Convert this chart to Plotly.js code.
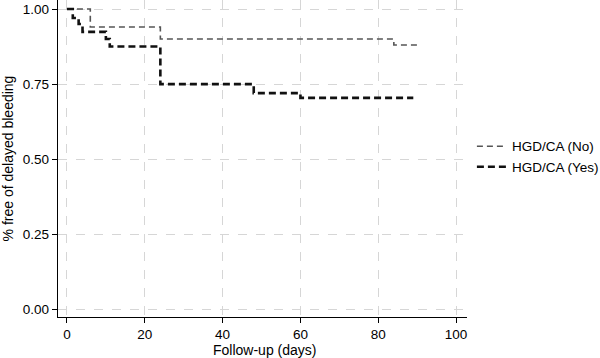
<!DOCTYPE html>
<html>
<head>
<meta charset="utf-8">
<script src="https://cdn.plot.ly/plotly-3.0.1.min.js"></script>
<style>html,body{margin:0;padding:0;background:#fff;}#chart{width:600px;height:358px;}</style>
</head>
<body>
<div id="chart"></div>
<script>
var noDays = [0, 6, 24, 84, 90];
var noSurv = [1.0, 0.94, 0.90, 0.88, 0.88];
var yesDays = [0, 1.5, 3, 4, 10, 11, 24, 48, 60, 89];
var yesSurv = [1.0, 0.97, 0.95, 0.924, 0.90, 0.875, 0.75, 0.72, 0.704, 0.704];
var xTicks = [0, 20, 40, 60, 80, 100];
var yTicks = [0, 0.25, 0.5, 0.75, 1.0];
var yTickLabels = ["0.00", "0.25", "0.50", "0.75", "1.00"];
var seriesNames = ["HGD/CA (No)", "HGD/CA (Yes)"];
var xTitle = 'Follow-up (days)';
var yTitle = '% free of delayed bleeding';

var traces = [
  {x: noDays, y: noSurv, name: seriesNames[0], mode: 'lines',
   line: {shape: 'hv', color: '#555555', width: 1.6, dash: '6px,4px'}},
  {x: yesDays, y: yesSurv, name: seriesNames[1], mode: 'lines',
   line: {shape: 'hv', color: '#111111', width: 2.6, dash: '7px,4px'}}
];
var layout = {
  width: 600, height: 358,
  margin: {l: 58, r: 133, t: 0, b: 41, autoexpand: false},
  paper_bgcolor: '#fff', plot_bgcolor: '#fff',
  font: {family: 'Liberation Sans, Arial, sans-serif', size: 13.5, color: '#000'},
  showlegend: true,
  legend: {x: 1.012, xanchor: 'left', y: 0.505, yanchor: 'middle', font: {size: 13.5},
           bgcolor: 'rgba(0,0,0,0)', tracegroupgap: 0},
  xaxis: {range: [-2.3, 102.8], tickvals: xTicks, showline: true, linecolor: '#000', linewidth: 1.2,
          ticks: 'outside', ticklen: 5, tickcolor: '#000', showgrid: true, gridcolor: '#d6d6d6',
          griddash: 'dash', gridwidth: 1, zeroline: false},
  yaxis: {range: [-0.0257, 1.03], tickvals: yTicks, ticktext: yTickLabels, showline: true,
          linecolor: '#000', linewidth: 1.2, ticks: 'outside', ticklen: 5, tickcolor: '#000',
          showgrid: true, gridcolor: '#d6d6d6', griddash: 'dash', gridwidth: 1, zeroline: false,
          title: {text: yTitle, font: {size: 14}, standoff: 6}},
  annotations: [
    {text: xTitle, xref: 'paper', yref: 'paper', x: (264 - 58) / 409, y: -(350 - 317) / 317,
     xanchor: 'center', yanchor: 'middle', showarrow: false, font: {size: 14}}
  ]
};
Plotly.newPlot('chart', traces, layout, {displayModeBar: false, staticPlot: true});
</script>
</body>
</html>
